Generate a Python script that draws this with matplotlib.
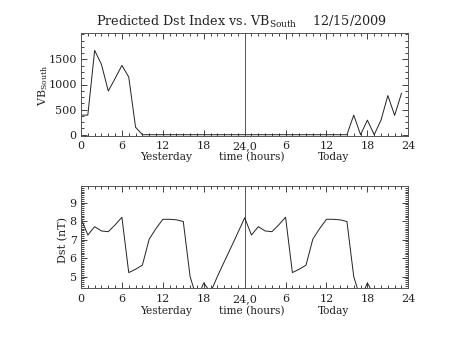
import matplotlib
matplotlib.use("Agg")
import matplotlib.pyplot as plt
from matplotlib.ticker import MultipleLocator, FixedLocator

plt.rcParams['font.family'] = ['DejaVu Serif']
plt.rcParams['mathtext.fontset'] = 'dejavuserif'

# hours 0..47 (yesterday 0-23, today 24-47)
vb_hours = list(range(48))
vb_south = [390, 390, 1680, 1400, 870, 1120, 1380, 1150, 150, 0,
            0, 0, 0, 0, 0, 0, 0, 0, 0, 0, 0, 0, 0, 0,
            0, 0, 0, 0, 0, 0, 0, 0, 0, 0, 0, 0, 0, 0, 0, 0,
            390, 0, 290, 0, 290, 780, 385, 825]

dst_hours = list(range(44))
dst = [8.15, 7.25, 7.70, 7.47, 7.43, 7.80, 8.21, 5.22, 5.40, 5.62,
       7.03, 7.60, 8.10, 8.10, 8.07, 7.98, 5.00, 3.80, 4.66, 4.15,
       5.01, 5.80, 6.58, 7.37, 8.18, 7.25, 7.70, 7.47, 7.43, 7.80,
       8.21, 5.22, 5.40, 5.62, 7.03, 7.60, 8.10, 8.10, 8.07, 7.98,
       5.00, 3.80, 4.66, 4.00]

xtick_pos = [0, 6, 12, 18, 24, 30, 36, 42, 48]
xtick_labels = ['0', '6', '12', '18', '24,0', '6', '12', '18', '24']
vb_ticks = [0, 500, 1000, 1500]
dst_ticks = [5, 6, 7, 8, 9]

title = 'Predicted Dst Index vs. VB$_{\\mathrm{South}}$    12/15/2009'

fig = plt.figure(figsize=(4.53, 3.40), dpi=100)
W, H = 453.0, 340.0
ink = '#222222'

def make_ax(top_px, bot_px):
    return fig.add_axes([81 / W, 1 - bot_px / H, (408.3 - 81) / W, (bot_px - top_px) / H])

ax1 = make_ax(33.3, 135.7)
ax2 = make_ax(186.0, 288.3)

for ax in (ax1, ax2):
    ax.set_xlim(0, 48)
    ax.xaxis.set_major_locator(FixedLocator(xtick_pos))
    ax.set_xticklabels(xtick_labels)
    ax.xaxis.set_minor_locator(MultipleLocator(1))
    ax.tick_params(which='both', direction='in', top=True, right=True,
                   colors=ink, labelsize=8, width=0.6)
    ax.tick_params(axis='x', which='major', length=4, pad=4)
    ax.tick_params(axis='x', which='minor', length=2)
    ax.tick_params(axis='y', which='major', length=4.5, pad=3)
    ax.tick_params(axis='y', which='minor', length=2.2)
    for s in ax.spines.values():
        s.set_color('#555555')
        s.set_linewidth(0.7)
    ax.axvline(24, color='#555555', lw=0.7)

ax1.plot(vb_hours, vb_south, color=ink, lw=0.7)
ax1.set_ylim(-20, 2020)
ax1.yaxis.set_major_locator(FixedLocator(vb_ticks))
ax1.yaxis.set_minor_locator(MultipleLocator(125))

ax2.plot(dst_hours, dst, color=ink, lw=0.7)
ax2.set_ylim(4.37, 9.9)
ax2.yaxis.set_major_locator(FixedLocator(dst_ticks))
ax2.yaxis.set_minor_locator(MultipleLocator(0.1))

fig.text(241 / W, 1 - 22 / H, title, ha='center', va='center', fontsize=9.2, color=ink)
fig.text(43 / W, 1 - 85 / H, 'VB$_{\\mathrm{South}}$', rotation=90, ha='center', va='center',
         fontsize=8, color=ink)
fig.text(63 / W, 1 - 240 / H, 'Dst (nT)', rotation=90, ha='center', va='center',
         fontsize=8, color=ink)

for ypx in (157, 310.7):
    fig.text(166 / W, 1 - ypx / H, 'Yesterday', ha='center', va='center', fontsize=7.6, color=ink)
    fig.text(252 / W, 1 - ypx / H, 'time (hours)', ha='center', va='center', fontsize=7.6, color=ink)
    fig.text(334 / W, 1 - ypx / H, 'Today', ha='center', va='center', fontsize=7.6, color=ink)

fig.savefig('out.png', dpi=100)
